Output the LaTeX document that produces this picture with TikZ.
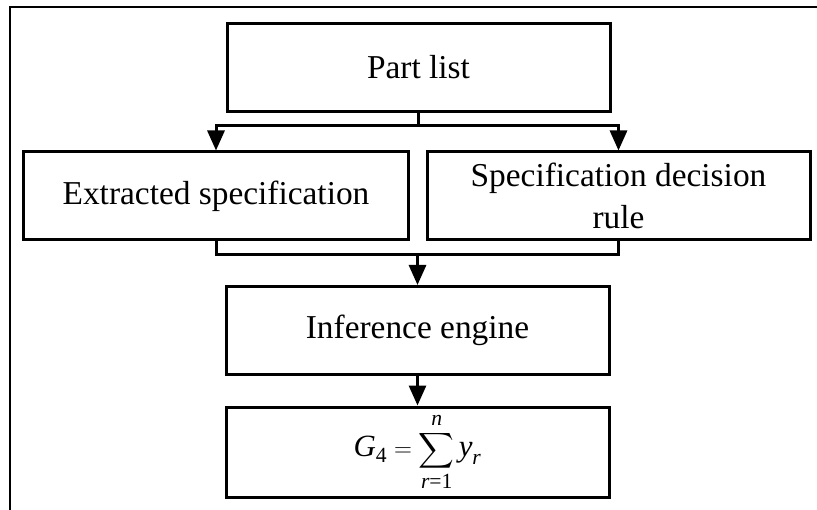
\documentclass[tikz,border=0pt]{standalone}
\usepackage{amsmath}
\usepackage{exscale}
\usepackage{fontspec}
\setmainfont{Liberation Serif}
\usetikzlibrary{arrows.meta,calc}
\begin{document}
\begin{tikzpicture}[x=1bp,y=-1bp,
  box/.style={draw=black,line width=3bp,minimum width=383bp,minimum height=88bp,
    inner sep=0pt,align=center,font=\fontsize{33.5}{42}\selectfont},
  link/.style={draw=black,line width=3bp},
  arr/.style={link,-{Triangle[length=20bp,width=17bp]}},
  frame/.style={draw=black,line width=2.2bp}]
\useasboundingbox (0,0) rectangle (817,510);
\draw[frame] (10,510) -- (10,7) -- (817,7);
\node[box] (part) at (418.5,67.5) {Part list};
\node[box,minimum width=385bp] (ext) at (216,196) {Extracted specification};
\node[box] (rule) at (618.5,196) {Specification decision\\rule};
\node[box] (inf) at (417.5,330.5) {Inference engine};
\node[box,minimum height=90bp] (out) at (417.5,452) {};
\node[inner sep=0pt,font=\fontsize{31}{38}\selectfont] (form) at (417.5,452)
  {$\displaystyle \textit{G}_{\text{4}} = \sum_{\textit{r}\text{=1}}^{\textit{n}} \textit{y}_{\textit{r}}$};
% splits from part list
\coordinate (j1) at ($(part.south)+(0,13)$);
\draw[link] (part.south) -- (j1);
\draw[arr] (j1) -| (ext.north);
\draw[arr] (j1) -| (rule.north);
% merge into inference engine
\coordinate (j2) at ($(inf.north)+(0,-30)$);
\draw[link] (ext.south) |- (j2);
\draw[link] (rule.south) |- (j2);
\draw[arr] (j2) -- (inf.north);
\draw[arr] (inf.south) -- (out.north);
\end{tikzpicture}
\end{document}
